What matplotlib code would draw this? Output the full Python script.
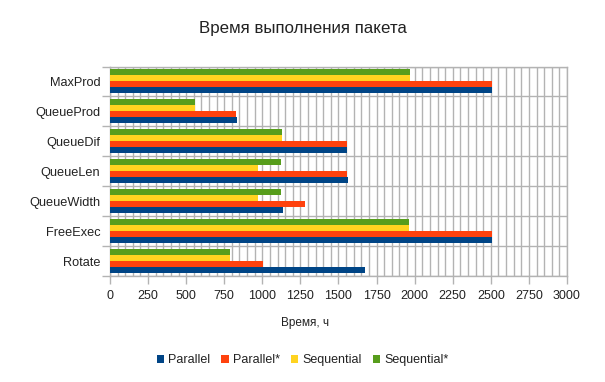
import numpy as np
import matplotlib
matplotlib.use("Agg")
from matplotlib import pyplot as plt
from matplotlib.ticker import MultipleLocator, FixedLocator, NullFormatter

plt.rcParams['font.family'] = ['Liberation Sans', 'DejaVu Sans']

# data (top to bottom as shown)
categories = ['MaxProd', 'QueueProd', 'QueueDif', 'QueueLen', 'QueueWidth', 'FreeExec', 'Rotate']
parallel = [2510, 834, 1557, 1563, 1136, 2510, 1675]
parallel_star = [2510, 828, 1557, 1557, 1281, 2510, 1005]
sequential = [1970, 558, 1130, 972, 972, 1965, 788]
sequential_star = [1970, 558, 1130, 1123, 1123, 1965, 788]

series = [
    ('Parallel', parallel, '#004586', 0.3),
    ('Parallel*', parallel_star, '#ff420e', 0.1),
    ('Sequential', sequential, '#ffd320', -0.1),
    ('Sequential*', sequential_star, '#579d1c', -0.3),
]

fig = plt.figure(figsize=(6.05, 3.82), dpi=100)
ax = fig.add_axes([110 / 605, 1 - 276 / 382, 457 / 605, 209.5 / 382])

y = np.arange(len(categories))
for name, vals, color, off in series:
    ax.barh(y + off, vals, height=0.2, color=color, label=name, zorder=3)

ax.set_xlim(0, 3000)
ax.set_ylim(len(categories) - 0.5, -0.5)

grid_c = '#b3b3b3'
ax.xaxis.set_major_locator(MultipleLocator(250))
ax.xaxis.set_minor_locator(MultipleLocator(50))
ax.grid(True, which='both', axis='x', color=grid_c, linewidth=1, zorder=0)

# category boundaries as major y ticks, labels on minor ticks
ax.yaxis.set_major_locator(FixedLocator(np.arange(len(categories) + 1) - 0.5))
ax.yaxis.set_major_formatter(NullFormatter())
ax.yaxis.set_minor_locator(FixedLocator(y))
ax.set_yticklabels(categories, minor=True)
ax.grid(True, which='major', axis='y', color=grid_c, linewidth=1, zorder=0)

ax.tick_params(axis='y', which='major', length=6, color=grid_c, width=1)
ax.tick_params(axis='y', which='minor', length=0, labelsize=9.2, labelcolor='#222222', pad=7)
ax.tick_params(axis='x', which='major', length=6, color=grid_c, width=1,
               labelsize=9, labelcolor='#222222', pad=4)
ax.tick_params(axis='x', which='minor', length=0)

for s in ax.spines.values():
    s.set_color(grid_c)
    s.set_linewidth(1)

fig.text(0.5, 1 - 28 / 382, 'Время выполнения пакета', ha='center', va='center',
         fontsize=12.2, color='#222222')
fig.text(0.505, 1 - 323 / 382, 'Время, ч', ha='center', va='center',
         fontsize=8.5, color='#222222')

fig.legend(loc='center', bbox_to_anchor=(0.5, 1 - 360 / 382), ncol=4, frameon=False,
           fontsize=9, handlelength=0.6, handleheight=0.6, handletextpad=0.3,
           columnspacing=0.9, labelcolor='#222222')

fig.savefig('out.png', dpi=100)
